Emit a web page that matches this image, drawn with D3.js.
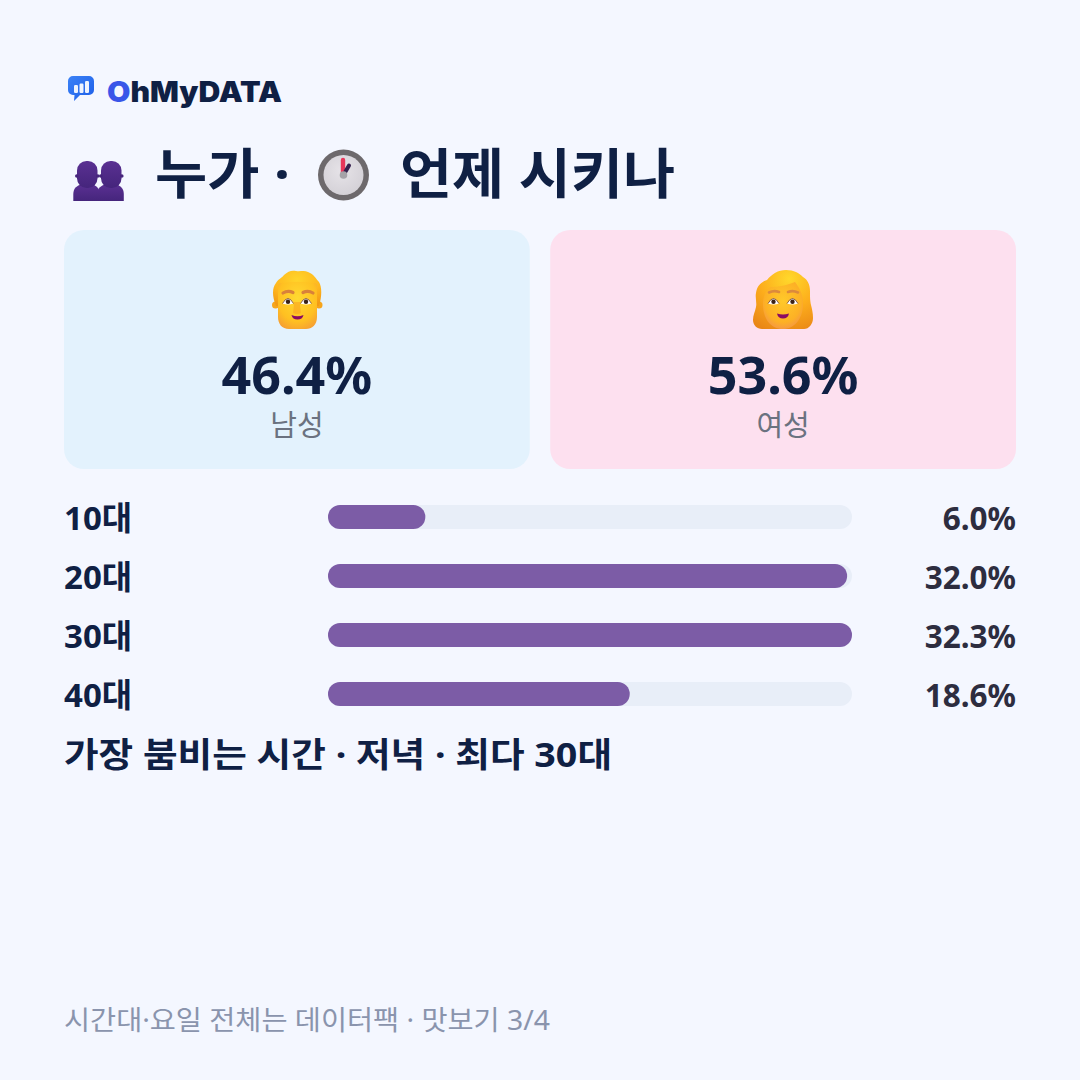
<!DOCTYPE html>
<html lang="ko">
<head>
<meta charset="utf-8">
<script src="https://cdn.jsdelivr.net/npm/d3@7"></script>
<style>
html,body{margin:0;padding:0;background:#f4f7ff}
svg{display:block}
text{font-family:"Noto Sans","Noto Sans CJK KR",sans-serif}
</style>
</head>
<body>
<div id="chart"></div>
<script>
// Age distribution of customers, with the gender split shown above it
const ageGroups = ["10대", "20대", "30대", "40대"];
const ageShares = [6.0, 32.0, 32.3, 18.6];
const genderNames = ["남성", "여성"];
const genderShares = [46.4, 53.6];
const titleParts = ["누가 ·", "언제 시키나"];
const summaryLine = "가장 붐비는 시간 · 저녁 · 최다 30대";
const footerLine = "시간대·요일 전체는 데이터팩 · 맛보기 3/4";

const navy = "#0f2044", grey = "#6b7280";
const svg = d3.select("#chart").append("svg").attr("width", 1080).attr("height", 1080);
svg.append("rect").attr("width", 1080).attr("height", 1080).attr("fill", "#f4f7ff");
const defs = svg.append("defs");

function linear(id, x1, y1, x2, y2, stops) {
  const g = defs.append("linearGradient").attr("id", id)
    .attr("x1", x1).attr("y1", y1).attr("x2", x2).attr("y2", y2);
  stops.forEach(([o, c]) => g.append("stop").attr("offset", o).attr("stop-color", c));
}
function radial(id, cx, cy, r, stops) {
  const g = defs.append("radialGradient").attr("id", id).attr("cx", cx).attr("cy", cy).attr("r", r);
  stops.forEach(([o, c]) => g.append("stop").attr("offset", o).attr("stop-color", c));
}
linear("logoBlue", 0, 0, 1, 1, [[0, "#3b82f6"], [1, "#1d5ee8"]]);
linear("logoO", 0, 0, 1, 0, [[0, "#3a55e8"], [1, "#2563eb"]]);
linear("person", 0, 0, 0, 1, [[0, "#5a3092"], [1, "#45257c"]]);
radial("hair", .5, .25, .8, [[0, "#ffd42a"], [.6, "#ffb81e"], [1, "#f29a14"]]);
radial("skin", .5, .35, .75, [[0, "#ffd931"], [.65, "#ffc021"], [1, "#f49a35"]]);
radial("hairF", .6, .15, .95, [[0, "#ffd82b"], [.5, "#fdae1c"], [1, "#e98616"]]);
radial("skinF", .5, .4, .65, [[0, "#ffc92a"], [.7, "#fdb125"], [1, "#f3924a"]]);
radial("dial", .45, .4, .65, [[0, "#e6e3e8"], [1, "#d3d0d6"]]);

// Brand mark and wordmark
const logo = svg.append("g");
logo.append("path").attr("fill", "url(#logoBlue)")
  .attr("d", "M73 76h16a5 5 0 0 1 5 5v9a5 5 0 0 1-5 5h-9l-6 6 .5-6H73a5 5 0 0 1-5-5V81a5 5 0 0 1 5-5z");
[[74, 85, 8], [79.5, 83.5, 9.5], [85, 81, 12]].forEach(([x, y, h]) =>
  logo.append("rect").attr("x", x).attr("y", y).attr("width", 4).attr("height", h).attr("rx", 1.2).attr("fill", "#fff").attr("opacity", .92));
const word = logo.append("text").attr("x", 107).attr("y", 102)
  .attr("font-size", 28).attr("fill", navy)
  .attr("textLength", 175).attr("lengthAdjust", "spacingAndGlyphs")
  .style("font-family", "Inter").style("font-weight", 900);
word.append("tspan").attr("fill", "url(#logoO)").text("O");
word.append("tspan").text("hMyDATA");

// Title row with its two pictograms
function people(g) {
  [0, 24].forEach(dx => {
    const p = g.append("g").attr("transform", `translate(${dx},0)`);
    p.append("path").attr("fill", "url(#person)")
      .attr("d", "M73.300 201v-7c0-6 4-9 9-9.500h9c5 .5 8.500 4 8.500 9.500v7z");
    p.append("rect").attr("x", 77).attr("y", 161).attr("width", 20.5).attr("height", 27).attr("rx", 9.5).attr("fill", "url(#person)");
    p.append("circle").attr("cx", 76.8).attr("cy", 176).attr("r", 1.8).attr("fill", "#46257c");
    p.append("circle").attr("cx", 97.8).attr("cy", 176).attr("r", 1.8).attr("fill", "#46257c");
  });
}
people(svg.append("g").attr("class", "people"));

svg.append("text").attr("x", 155).attr("y", 194).attr("font-size", 54).attr("font-weight", 700)
  .attr("textLength", 135).attr("lengthAdjust", "spacingAndGlyphs").attr("fill", navy).text(titleParts[0]);
svg.append("text").attr("x", 400).attr("y", 194).attr("font-size", 54).attr("font-weight", 700)
  .attr("textLength", 275).attr("lengthAdjust", "spacingAndGlyphs").attr("fill", navy).text(titleParts[1]);

const clock = svg.append("g").attr("transform", "translate(343.500,175)");
clock.append("circle").attr("r", 25.5).attr("fill", "#6d696c");
clock.append("circle").attr("r", 20).attr("fill", "url(#dial)");
clock.append("path").attr("d", "M-.5 0V-15").attr("stroke", "#e8365a").attr("stroke-width", 4.4).attr("stroke-linecap", "round");
clock.append("path").attr("d", "M0 0L5.500 -9.500").attr("stroke", "#35224f").attr("stroke-width", 4).attr("stroke-linecap", "round");
clock.append("circle").attr("r", 3.8).attr("fill", "#a5a3a8");

// Gender cards
const cardX = d3.scaleBand().domain(genderNames).range([64, 1016]).paddingInner(20 / 476);
const cardFill = d3.scaleOrdinal(genderNames, ["#e3f2fd", "#fde0ef"]);
const cards = svg.selectAll("g.card").data(genderNames.map((n, i) => ({n, v: genderShares[i]})))
  .join("g").attr("class", "card").attr("transform", d => `translate(${cardX(d.n)},230)`);
cards.append("rect").attr("width", cardX.bandwidth()).attr("height", 239).attr("rx", 20)
  .attr("fill", d => cardFill(d.n));
cards.append("text").attr("x", cardX.bandwidth() / 2).attr("y", 164).attr("text-anchor", "middle")
  .attr("font-size", 52).attr("font-weight", 700).attr("fill", navy).text(d => d.v.toFixed(1) + "%");
cards.append("text").attr("x", cardX.bandwidth() / 2).attr("y", 206).attr("text-anchor", "middle")
  .attr("font-size", 29).attr("fill", grey).text(d => d.n);

function eye(g, x, y) {
  g.append("path").attr("d", `M${x - 5.5} ${y + 1.5}q5.500 -10 11 0q-5.500 2 -11 0z`).attr("fill", "#fff");
  g.append("circle").attr("cx", x).attr("cy", y - .3).attr("r", 2.2).attr("fill", "#3a2318");
  g.append("path").attr("d", `M${x - 5.5} ${y + 1.5}q5.500 -10 11 0`).attr("fill", "none").attr("stroke", "#6b3a26").attr("stroke-width", .8);
}
// man
const man = svg.append("g");
man.append("circle").attr("cx", 275.5).attr("cy", 305).attr("r", 3.5).attr("fill", "#f6a51c");
man.append("circle").attr("cx", 319).attr("cy", 305).attr("r", 3.5).attr("fill", "#f6a51c");
man.append("path").attr("fill", "url(#hair)")
  .attr("d", "M276 306c-4-10-4-18 0-23 2-4 6-5 8-8 4-4 8-5 12-4 4 1 8-1 12 1 6 2 8 7 11 10 3 5 3 14 0 24z");
man.append("path").attr("fill", "url(#skin)")
  .attr("d", "M281 283c9-1.500 26-1.500 33 0 2 0 3 1 3 3v31c0 8-5 12-11 12h-17c-7 0-11-5-11-12v-31c0-2 1-3 3-3z");
man.append("path").attr("d", "M283 293q5-3 10-.5M303 292.500q5-2.500 10 .5").attr("fill", "none").attr("stroke", "#d9813a").attr("stroke-width", 3.2).attr("stroke-linecap", "round");
eye(man, 288, 302); eye(man, 306, 302);
man.append("path").attr("d", "M294 302c0 4-.8 9-.8 11q3.800 2 7.600 0c0-2-.8-7-.8-11z").attr("fill", "#f9a11f").attr("opacity", .55);
man.append("path").attr("d", "M291.500 315q6 2.500 12 0q-1 4.500-6 4.500q-5 0-6-4.500z").attr("fill", "#8b0a63");

// woman
const woman = svg.append("g");
woman.append("path").attr("fill", "url(#hairF)")
  .attr("d", "M753 320c0-5 2-8 3-13 1-5-1-9 0-14 1-7 5-11 11-13 5-6 11-10 19-10 8 0 13 3 17 7 5 3 7 8 7 14 0 6 0 9 1 14 1 4 2 8 2 13 0 6-4 11-9 11h-42c-5 0-9-4-9-9z");
woman.append("path").attr("fill", "url(#skinF)")
  .attr("d", "M763 304c0-8 3-13 7-17 8 0 18-2 25-5 4 5 8 12 8 22 0 15-9 25-20 25-12 0-20-10-20-25z");
woman.append("path").attr("d", "M769 292.500q5-2.500 10-.5M788 292q5-2 10 .5").attr("fill", "none").attr("stroke", "#dc8a3c").attr("stroke-width", 2.6).attr("stroke-linecap", "round");
eye(woman, 773.5, 302); eye(woman, 792.5, 302);
woman.append("path").attr("d", "M777 313.500q6 2 12 0q-1 5-6 5q-5 0-6-5z").attr("fill", "#8b0a63");

// Age bars share one scale so that the largest group fills the track
const trackLeft = 328, trackRight = 852;
const barX = d3.scaleLinear().domain([0, d3.max(ageShares)]).range([trackLeft, trackRight]);
const rowY = d3.scalePoint().domain(ageGroups).range([517, 694]);
const rows = svg.selectAll("g.row").data(ageGroups.map((g, i) => ({g, v: ageShares[i]})))
  .join("g").attr("class", "row").attr("transform", d => `translate(0,${rowY(d.g)})`);
rows.append("text").attr("x", 64).attr("y", 13).attr("font-size", 33).attr("font-weight", 700)
  .attr("fill", navy).text(d => d.g);
rows.append("rect").attr("x", trackLeft).attr("y", -12).attr("height", 24).attr("rx", 12)
  .attr("width", trackRight - trackLeft).attr("fill", "#e8eef8");
rows.append("rect").attr("x", trackLeft).attr("y", -12).attr("height", 24).attr("rx", 12)
  .attr("width", d => barX(d.v) - trackLeft).attr("fill", "#7c5ca6");
rows.append("text").attr("x", 1016).attr("y", 13).attr("text-anchor", "end").attr("font-size", 31.5)
  .attr("font-weight", 700).attr("fill", "#2d2d3f").text(d => d.v.toFixed(1) + "%");

svg.append("text").attr("x", 64).attr("y", 767).attr("font-size", 34).attr("font-weight", 700)
  .attr("textLength", 548).attr("lengthAdjust", "spacingAndGlyphs").attr("fill", navy).text(summaryLine);
svg.append("text").attr("x", 64).attr("y", 1030).attr("font-size", 27)
  .attr("textLength", 486).attr("lengthAdjust", "spacingAndGlyphs").attr("fill", "#8a94ad").text(footerLine);
</script>
</body>
</html>
